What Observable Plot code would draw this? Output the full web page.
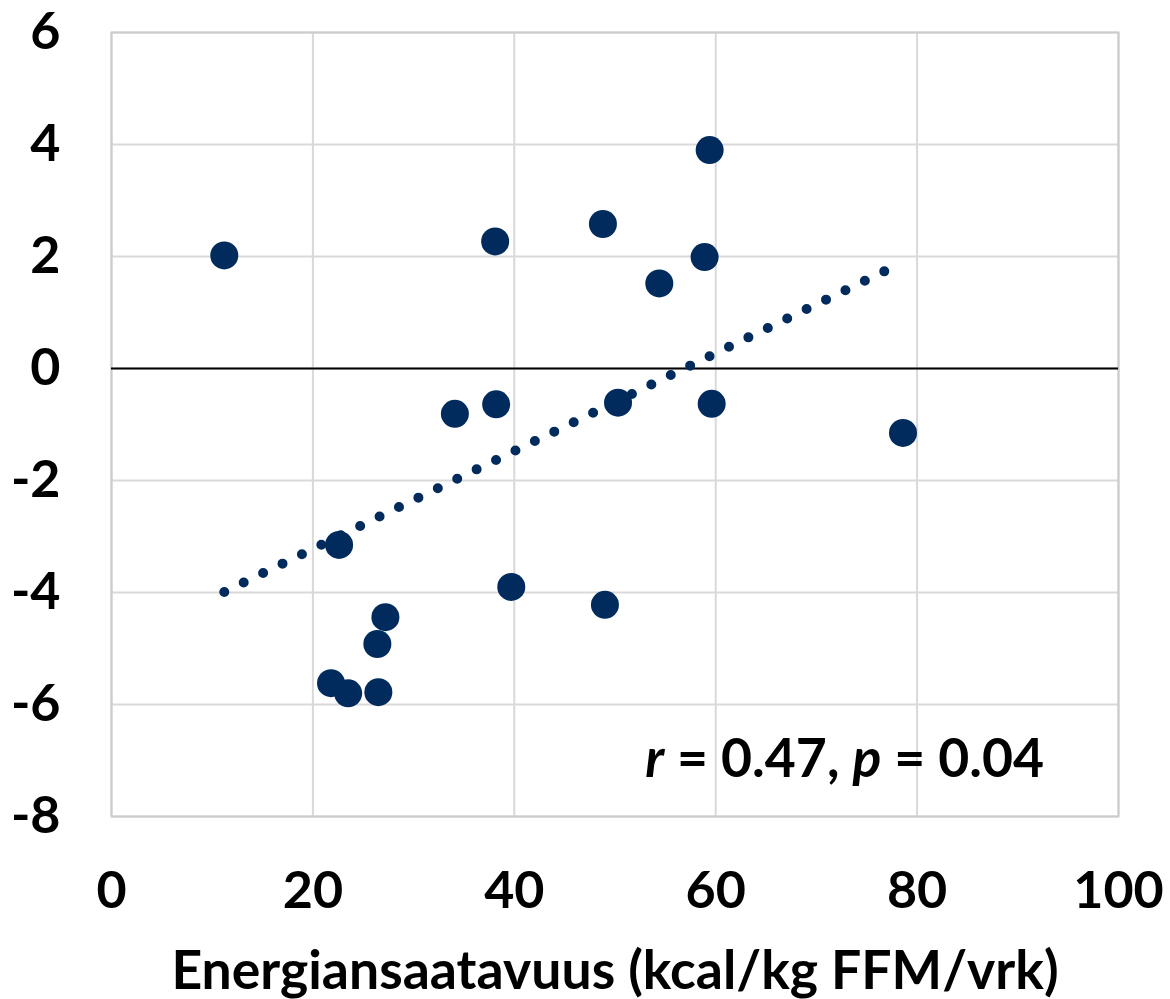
<!DOCTYPE html>
<html>
<head>
<meta charset="utf-8">
<script src="https://cdn.jsdelivr.net/npm/d3@7"></script>
<script src="https://cdn.jsdelivr.net/npm/@observablehq/plot@0.6"></script>
<style>
  html, body { margin: 0; padding: 0; background: white; }
  #chart { width: 1170px; height: 999px; }
</style>
</head>
<body>
<div id="chart"></div>
<script>
// Data
const energyAvailability = [11.2, 59.4, 48.8, 38.1, 58.9, 54.4, 34.1, 38.2, 50.3, 59.6, 78.6, 22.6, 39.7, 49.0, 27.2, 26.4, 21.8, 23.5, 26.5];
const change = [2.02, 3.90, 2.58, 2.27, 1.99, 1.52, -0.81, -0.64, -0.61, -0.63, -1.15, -3.15, -3.90, -4.22, -4.44, -4.92, -5.62, -5.80, -5.78];
const trendX = [11.2, 76.8];
const trendY = [-3.99, 1.74];
const xTicks = [0, 20, 40, 60, 80, 100];
const yTicks = [-8, -6, -4, -2, 0, 2, 4, 6];
const xLabel = "Energiansaatavuus (kcal/kg FFM/vrk)";
const statText = "r = 0.47, p = 0.04";
const statPos = {x: 72.8, y: -6.98};

const points = energyAvailability.map((x, i) => ({x, y: change[i]}));
const trend = trendX.map((x, i) => ({x, y: trendY[i]}));

const navy = "#002b5c";

const chart = Plot.plot({
  width: 1170,
  height: 999,
  marginLeft: 111,
  marginRight: 52,
  marginTop: 32,
  marginBottom: 183,
  x: {domain: [0, 100]},
  y: {domain: [-8, 6]},
  style: {fontFamily: "Lato, 'Open Sans', sans-serif", fontWeight: "bold", fontSize: "52px", background: "white", color: "black"},
  marks: [
    Plot.gridX(xTicks, {stroke: "#d9d9d9", strokeOpacity: 1, strokeWidth: 2}),
    Plot.gridY(yTicks, {stroke: "#d9d9d9", strokeOpacity: 1, strokeWidth: 2}),
    Plot.frame({stroke: "#cccccc", strokeWidth: 2}),
    Plot.ruleY([0], {stroke: "black", strokeWidth: 2}),
    Plot.axisX(xTicks, {tickSize: 0, tickPadding: 55, fontSize: 52, label: null, tickFormat: d => String(d)}),
    Plot.axisY(yTicks, {tickSize: 0, tickPadding: 51, fontSize: 52, label: null, tickFormat: d => String(d)}),
    Plot.line(trend, {x: "x", y: "y", stroke: navy, strokeWidth: 10, strokeDasharray: "0 21.58", strokeLinecap: "round"}),
    Plot.dot(points, {x: "x", y: "y", r: 14, fill: navy, stroke: "none"}),
    Plot.text([statText], {x: () => statPos.x, y: () => statPos.y, text: d => d, fontSize: 53.5, fill: "black", textAnchor: "middle", lineAnchor: "middle"}),
    Plot.text([xLabel], {frameAnchor: "bottom", dy: 155, text: d => d, fontSize: 53.5, fill: "black", textAnchor: "middle", lineAnchor: "middle"})
  ]
});

document.getElementById("chart").appendChild(chart);

// italicize r and p in the statistic annotation
d3.select(chart).selectAll("text").each(function() {
  if (this.textContent === statText) {
    const sel = d3.select(this);
    sel.text(null);
    sel.append("tspan").attr("font-style", "italic").text("r");
    sel.append("tspan").text(" = 0.47, ");
    sel.append("tspan").attr("font-style", "italic").text("p");
    sel.append("tspan").text(" = 0.04");
  }
});
</script>
</body>
</html>
